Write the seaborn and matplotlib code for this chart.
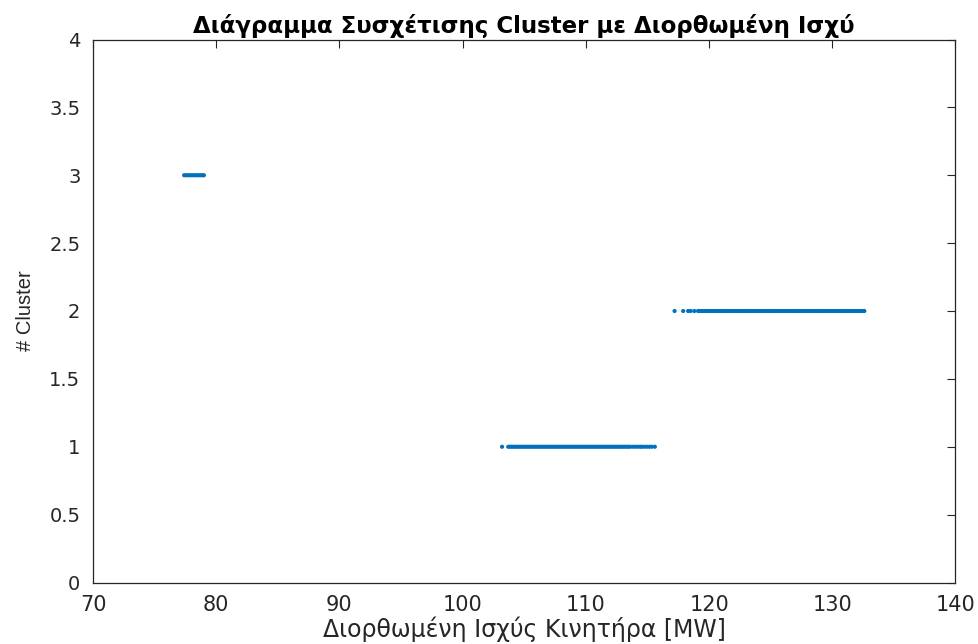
import matplotlib
matplotlib.use("Agg")
import matplotlib.pyplot as plt
import pandas as pd
import seaborn as sns

# Corrected engine power [MW] of the samples assigned to each cluster
power_c3 = [77.40, 77.55, 77.70, 77.85, 78.00, 78.15, 78.30, 78.45, 78.60, 78.75,
            78.90, 79.00]
power_c1 = [103.20,
            103.70, 103.85, 104.00, 104.15, 104.30, 104.45, 104.60, 104.75, 104.90, 105.05,
            105.20, 105.35, 105.50, 105.65, 105.80, 105.95, 106.10, 106.25, 106.40, 106.55,
            106.70, 106.85, 107.00, 107.15, 107.30, 107.45, 107.60, 107.75, 107.90, 108.05,
            108.20, 108.35, 108.50, 108.65, 108.80, 108.95, 109.10, 109.25, 109.40, 109.55,
            109.70, 109.85, 110.00, 110.15, 110.30, 110.45, 110.60, 110.75, 110.90, 111.05,
            111.20, 111.35, 111.50, 111.65, 111.80, 111.95, 112.10, 112.25, 112.40, 112.55,
            112.70, 112.85, 113.00, 113.15, 113.30, 113.45, 113.60, 113.80, 114.00, 114.20,
            114.40, 114.55, 114.75, 114.95, 115.15, 115.35, 115.60]
power_c2 = [117.20, 117.90, 118.30, 118.50, 118.80,
            119.10, 119.25, 119.40, 119.55, 119.70, 119.85, 120.00, 120.15, 120.30, 120.45,
            120.60, 120.75, 120.90, 121.05, 121.20, 121.35, 121.50, 121.65, 121.80, 121.95,
            122.10, 122.25, 122.40, 122.55, 122.70, 122.85, 123.00, 123.15, 123.30, 123.45,
            123.60, 123.75, 123.90, 124.05, 124.20, 124.35, 124.50, 124.65, 124.80, 124.95,
            125.10, 125.25, 125.40, 125.55, 125.70, 125.85, 126.00, 126.15, 126.30, 126.45,
            126.60, 126.75, 126.90, 127.05, 127.20, 127.35, 127.50, 127.65, 127.80, 127.95,
            128.10, 128.25, 128.40, 128.55, 128.70, 128.85, 129.00, 129.15, 129.30, 129.45,
            129.60, 129.75, 129.90, 130.05, 130.20, 130.35, 130.50, 130.65, 130.80, 130.95,
            131.10, 131.25, 131.40, 131.55, 131.70, 131.85, 132.00, 132.15, 132.30, 132.45,
            132.60]
cluster_ids = [3, 1, 2]

x_ticks = [70, 80, 90, 100, 110, 120, 130, 140]
y_ticks = [0, 0.5, 1, 1.5, 2, 2.5, 3, 3.5, 4]
y_tick_labels = ["0", "0.5", "1", "1.5", "2", "2.5", "3", "3.5", "4"]

df = pd.DataFrame({
    "power": power_c3 + power_c1 + power_c2,
    "cluster": [cluster_ids[0]] * len(power_c3)
               + [cluster_ids[1]] * len(power_c1)
               + [cluster_ids[2]] * len(power_c2),
})

sns.set_style("white")
plt.rcParams["font.family"] = ["DejaVu Sans"]

W, H = 979, 644
fig = plt.figure(figsize=(W / 100, H / 100), dpi=100)
left, right, top, bottom = 93, 955.5, 39.5, 582.5
ax = fig.add_axes([left / W, 1 - bottom / H, (right - left) / W, (bottom - top) / H])

sns.scatterplot(data=df, x="power", y="cluster", ax=ax, color="#0072BD",
                s=9, edgecolor="none", linewidth=0, legend=False)

ax.set_xlim(70, 140)
ax.set_ylim(0, 4)
ax.set_xticks(x_ticks)
ax.set_yticks(y_ticks)
ax.set_yticklabels(y_tick_labels)
ax.tick_params(direction="in", length=6, width=0.8, colors="#262626",
               top=True, right=True)
ax.tick_params(axis="x", pad=9, labelsize=15)
ax.tick_params(axis="y", pad=9, labelsize=14)
for s in ax.spines.values():
    s.set_color("#262626")
    s.set_linewidth(0.9)

ax.set_xlabel("Διορθωμένη Ισχύς Κινητήρα [MW]", fontsize=17, color="#262626",
              labelpad=1)
ax.set_ylabel("# Cluster", fontsize=14.5, color="#262626", labelpad=10,
              family=["Liberation Sans", "DejaVu Sans"])
ax.set_title("Διάγραμμα Συσχέτισης Cluster με Διορθωμένη Ισχύ", fontsize=16.5,
             fontweight="bold", color="black", pad=5)

fig.savefig("out.png", dpi=100)
